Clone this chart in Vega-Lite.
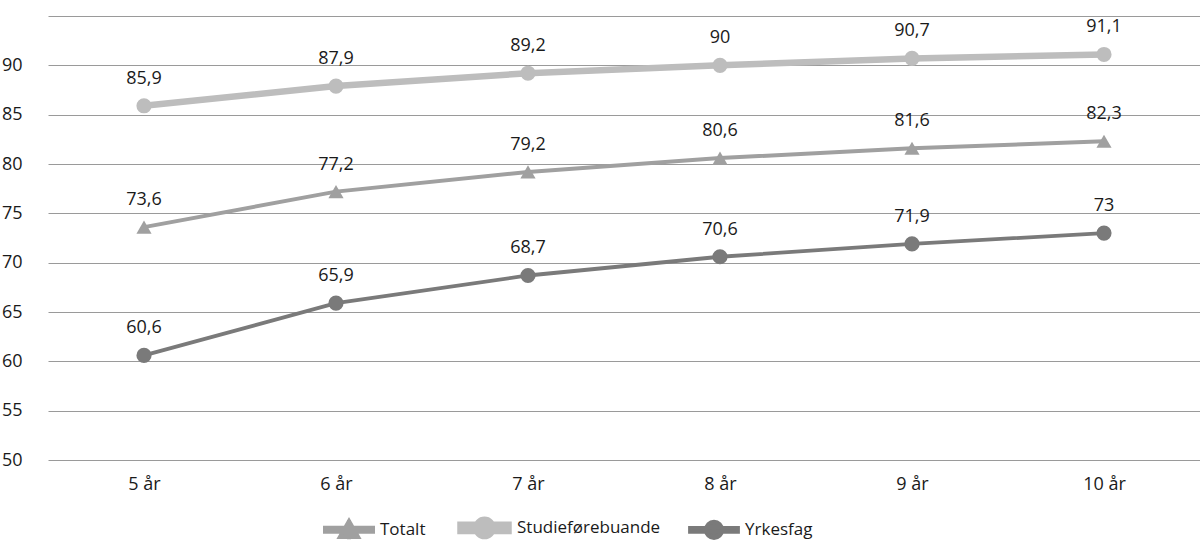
{
  "$schema": "https://vega.github.io/schema/vega-lite/v6.json",
  "autosize": {"type": "none"},
  "width": 1152,
  "height": 444,
  "padding": {"left": 48, "top": 16, "right": 0, "bottom": 98},
  "background": "#ffffff",
  "config": {
    "locale": {"number": {"decimal": ",", "thousands": " ", "grouping": [3], "currency": ["", " kr"]}},
    "font": "Open Sans",
    "view": {"stroke": null},
    "axis": {"labelFont": "Open Sans", "labelFontSize": 18, "labelColor": "#1a1a1a", "titleFont": "Open Sans"}
  },
  "data": {
    "values": [
      {"aar": "5 år", "serie": "Totalt", "verdi": 73.6},
      {"aar": "6 år", "serie": "Totalt", "verdi": 77.2},
      {"aar": "7 år", "serie": "Totalt", "verdi": 79.2},
      {"aar": "8 år", "serie": "Totalt", "verdi": 80.6},
      {"aar": "9 år", "serie": "Totalt", "verdi": 81.6},
      {"aar": "10 år", "serie": "Totalt", "verdi": 82.3},
      {"aar": "5 år", "serie": "Studieførebuande", "verdi": 85.9},
      {"aar": "6 år", "serie": "Studieførebuande", "verdi": 87.9},
      {"aar": "7 år", "serie": "Studieførebuande", "verdi": 89.2},
      {"aar": "8 år", "serie": "Studieførebuande", "verdi": 90},
      {"aar": "9 år", "serie": "Studieførebuande", "verdi": 90.7},
      {"aar": "10 år", "serie": "Studieførebuande", "verdi": 91.1},
      {"aar": "5 år", "serie": "Yrkesfag", "verdi": 60.6},
      {"aar": "6 år", "serie": "Yrkesfag", "verdi": 65.9},
      {"aar": "7 år", "serie": "Yrkesfag", "verdi": 68.7},
      {"aar": "8 år", "serie": "Yrkesfag", "verdi": 70.6},
      {"aar": "9 år", "serie": "Yrkesfag", "verdi": 71.9},
      {"aar": "10 år", "serie": "Yrkesfag", "verdi": 73}
    ]
  },
  "encoding": {
    "x": {
      "field": "aar", "type": "ordinal",
      "sort": ["5 år", "6 år", "7 år", "8 år", "9 år", "10 år"],
      "scale": {"type": "point", "padding": 0.5},
      "axis": {"title": null, "domain": false, "ticks": false, "labelAngle": 0, "labelPadding": 15, "grid": false}
    },
    "y": {
      "field": "verdi", "type": "quantitative",
      "scale": {"domain": [50, 95], "nice": false, "zero": false},
      "axis": {
        "title": null, "domain": false, "ticks": false,
        "values": [50, 55, 60, 65, 70, 75, 80, 85, 90, 95],
        "labelExpr": "datum.value == 95 ? '' : datum.label",
        "labelPadding": 26, "gridColor": "#9a9a9a", "gridWidth": 1
      }
    },
    "color": {
      "field": "serie", "type": "nominal",
      "scale": {"domain": ["Totalt", "Studieførebuande", "Yrkesfag"], "range": ["#a0a0a0", "#bdbdbd", "#7a7a7a"]},
      "legend": {
        "orient": "none", "legendX": 275, "legendY": 484,
        "direction": "horizontal", "title": null,
        "labelFont": "Open Sans", "labelFontSize": 17, "labelColor": "#1a1a1a",
        "columnPadding": 21, "symbolSize": 2304, "labelOffset": 5,
        "symbolStrokeWidth": 0,
        "encode": {
          "symbols": {
            "update": {
              "shape": {"signal": "datum.value === 'Totalt' ? 'M0,-0.4V0.4Z M-1,-0.085H1V0.085H-1Z M0,-0.36L0.38,0.3L-0.38,0.3Z' : datum.value === 'Studieførebuande' ? 'M0,-0.4V0.4Z M-1,-0.13H1V0.13H-1Z M0,-0.34A0.34,0.34 0 1,1 0,0.34A0.34,0.34 0 1,1 0,-0.34Z' : 'M0,-0.4V0.4Z M-1,-0.085H1V0.085H-1Z M0,-0.34A0.34,0.34 0 1,1 0,0.34A0.34,0.34 0 1,1 0,-0.34Z'"},
              "size": {"value": 2304},
              "strokeWidth": {"value": 0},
              "opacity": {"value": 1}
            }
          }
        }
      }
    }
  },
  "layer": [
    {
      "mark": {"type": "line"},
      "encoding": {
        "strokeWidth": {
          "field": "serie", "type": "nominal",
          "scale": {"type": "ordinal", "domain": ["Totalt", "Studieførebuande", "Yrkesfag"], "range": [4, 6.5, 3.8]},
          "legend": null
        }
      }
    },
    {
      "transform": [{"filter": "datum.serie === 'Totalt'"}],
      "mark": {"type": "point", "filled": true, "opacity": 1, "size": 230, "shape": "triangle-up"}
    },
    {
      "transform": [{"filter": "datum.serie !== 'Totalt'"}],
      "mark": {"type": "point", "filled": true, "opacity": 1, "size": 230, "shape": "circle"}
    },
    {
      "mark": {"type": "text", "dy": -27, "baseline": "middle", "fontSize": 18, "font": "Open Sans"},
      "encoding": {
        "text": {"field": "verdi", "type": "quantitative", "format": ".1~f"},
        "color": {"value": "#1a1a1a"}
      }
    }
  ]
}
